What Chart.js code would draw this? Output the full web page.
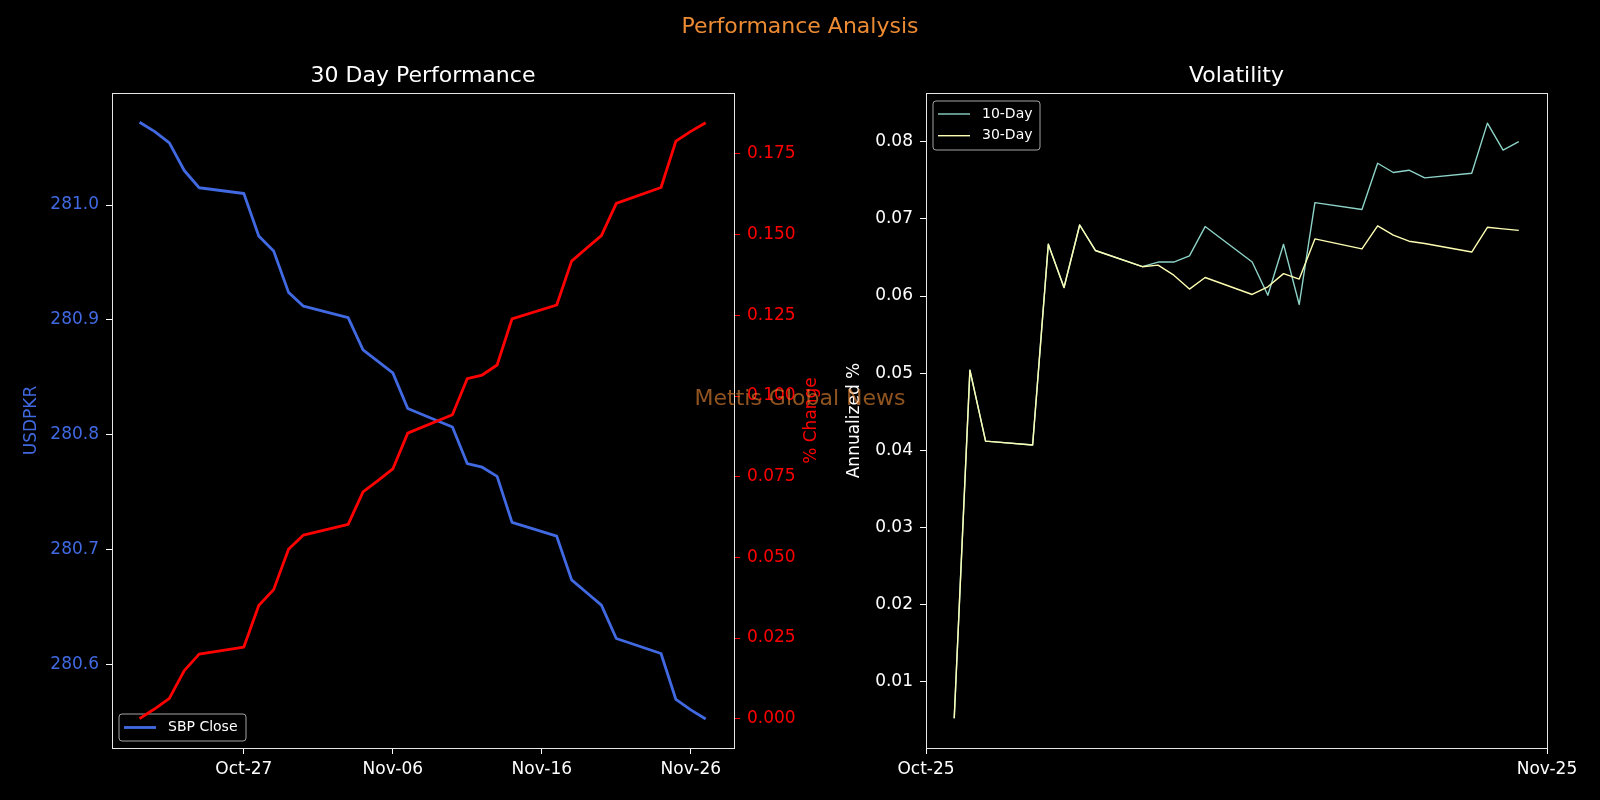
<!DOCTYPE html>
<html>
<head>
<meta charset="utf-8">
<title>Performance Analysis</title>
<script src="https://cdn.jsdelivr.net/npm/chart.js@4.4.1/dist/chart.umd.min.js"></script>
<style>
  html, body { margin: 0; padding: 0; background: #000; }
  #wrap { position: relative; width: 1600px; height: 800px; overflow: hidden; font-family: 'DejaVu Sans', sans-serif; }
  #wrap canvas { position: absolute; left: 0; top: 0; }
  .figtext { position: absolute; transform: translate(-50%, -50%); font-size: 22px; line-height: 1; white-space: nowrap; z-index: 5; }
  #suptitle { left: 800px; top: 25.5px; color: #ec8b33; }
  #watermark { left: 800px; top: 398px; color: rgba(236, 139, 51, 0.6); }
</style>
</head>
<body>
<div id="wrap">
  <canvas id="perfChart" width="1600" height="800"></canvas>
  <canvas id="volChart" width="1600" height="800"></canvas>
  <div id="suptitle" class="figtext">Performance Analysis</div>
  <div id="watermark" class="figtext">Mettis Global News</div>
</div>
<script>
// ---- data ----
const dates = ['2025-10-20','2025-10-21','2025-10-22','2025-10-23','2025-10-24',
  '2025-10-27','2025-10-28','2025-10-29','2025-10-30','2025-10-31',
  '2025-11-03','2025-11-04','2025-11-05','2025-11-06','2025-11-07',
  '2025-11-10','2025-11-11','2025-11-12','2025-11-13','2025-11-14',
  '2025-11-17','2025-11-18','2025-11-19','2025-11-20','2025-11-21',
  '2025-11-24','2025-11-25','2025-11-26','2025-11-27'];

const sbpClose = [281.072, 281.064, 281.054, 281.030, 281.015,
  281.010, 280.973, 280.960, 280.924, 280.912,
  280.902, 280.874, 280.864, 280.854, 280.823,
  280.807, 280.775, 280.772, 280.764, 280.724,
  280.712, 280.674, 280.663, 280.652, 280.623,
  280.610, 280.570, 280.561, 280.553];

const pctChange = [0.0000, 0.0030, 0.0063, 0.0149, 0.0200,
  0.0222, 0.0351, 0.0400, 0.0525, 0.0569,
  0.0602, 0.0703, 0.0738, 0.0774, 0.0885,
  0.0942, 0.1054, 0.1065, 0.1096, 0.1239,
  0.1282, 0.1418, 0.1458, 0.1497, 0.1597,
  0.1646, 0.1790, 0.1820, 0.1847];

const volDates = dates.slice(2);

const vol10 = [0.0053, 0.0504, 0.0412, 0.0407, 0.0667, 0.0611, 0.0692, 0.0659, 0.0638,
  0.0644, 0.0644, 0.0652, 0.0690, 0.0644, 0.0601, 0.0667, 0.0589, 0.0721,
  0.0712, 0.0772, 0.0760, 0.0763, 0.0753, 0.0759, 0.0824, 0.0789, 0.0800];

const vol30 = [0.0053, 0.0504, 0.0412, 0.0407, 0.0667, 0.0611, 0.0692, 0.0659, 0.0638,
  0.0640, 0.0627, 0.0609, 0.0624, 0.0602, 0.0612, 0.0629, 0.0622, 0.0674,
  0.0661, 0.0691, 0.0679, 0.0671, 0.0668, 0.0657, 0.0689, 0.0687, 0.0685];

const perfTickDates = ['2025-10-27', '2025-11-06', '2025-11-16', '2025-11-26'];
const volTickLabels = ['Oct-25', 'Nov-25'];
const usdTicks = [280.6, 280.7, 280.8, 280.9, 281.0];
const pctTicks = [0, 0.025, 0.05, 0.075, 0.1, 0.125, 0.15, 0.175];
const volTicks = [0.01, 0.02, 0.03, 0.04, 0.05, 0.06, 0.07, 0.08];

// ---- helpers ----
const FONT = "'DejaVu Sans', sans-serif";
const DAY = 86400000;
const t0 = Date.UTC(2025, 9, 20);
const MONTHS = ['Jan','Feb','Mar','Apr','May','Jun','Jul','Aug','Sep','Oct','Nov','Dec'];

function dayNum(s) {
  const p = s.split('-');
  return (Date.UTC(+p[0], +p[1] - 1, +p[2]) - t0) / DAY;
}
function dayLabel(d) {
  const dt = new Date(t0 + Math.round(d) * DAY);
  return MONTHS[dt.getUTCMonth()] + '-' + String(dt.getUTCDate()).padStart(2, '0');
}
function points(xs, ys) {
  return xs.map((d, i) => ({ x: dayNum(d), y: ys[i] }));
}
function setTicks(values) {
  return scale => { scale.ticks = values.map(v => ({ value: v })); };
}

Chart.defaults.font.family = FONT;
Chart.defaults.animation = false;

// frame on all four sides, like matplotlib spines
const framePlugin = {
  id: 'frame',
  afterDatasetsDraw(chart) {
    const a = chart.chartArea, ctx = chart.ctx;
    ctx.save();
    ctx.strokeStyle = '#e6e6e6';
    ctx.lineWidth = 1;
    ctx.strokeRect(Math.round(a.left) + 0.5, Math.round(a.top) + 0.5,
      Math.round(a.right - a.left), Math.round(a.bottom - a.top));
    ctx.restore();
  }
};

// boxed legend inside the plot area
const boxLegend = {
  id: 'boxLegend',
  beforeDatasetsDraw(chart, args, opts) {
    if (!opts.items) return;
    const a = chart.chartArea, ctx = chart.ctx;
    const x = a.left + opts.dx;
    const y = opts.corner === 'bottom' ? a.bottom - opts.dy - opts.h : a.top + opts.dy;
    ctx.save();
    ctx.beginPath();
    ctx.roundRect(x, y, opts.w, opts.h, 3);
    ctx.fillStyle = 'rgba(0,0,0,0.8)';
    ctx.fill();
    ctx.strokeStyle = '#a3a3a3';
    ctx.lineWidth = 1;
    ctx.stroke();
    ctx.font = '14px ' + FONT;
    ctx.textBaseline = 'middle';
    opts.items.forEach((idx, i) => {
      const ds = chart.data.datasets[idx];
      const ry = y + opts.rowTop + i * opts.rowGap;
      ctx.strokeStyle = ds.borderColor;
      ctx.lineWidth = ds.borderWidth;
      ctx.beginPath();
      ctx.moveTo(x + 5, ry);
      ctx.lineTo(x + 37, ry);
      ctx.stroke();
      ctx.fillStyle = '#ffffff';
      ctx.fillText(ds.label, x + 49, ry);
    });
    ctx.restore();
  }
};

// rotated axis label drawn by hand (reads bottom to top)
const sideLabel = {
  id: 'sideLabel',
  afterDraw(chart, args, opts) {
    if (!opts.text) return;
    const ctx = chart.ctx, a = chart.chartArea;
    ctx.save();
    ctx.translate(opts.x, (a.top + a.bottom) / 2);
    ctx.rotate(-Math.PI / 2);
    ctx.font = '17px ' + FONT;
    ctx.fillStyle = opts.color;
    ctx.textAlign = 'center';
    ctx.textBaseline = 'middle';
    ctx.fillText(opts.text, 0, 0);
    ctx.restore();
  }
};

function tickFont() { return { family: FONT, size: 17 }; }

// ---- left: 30 day performance ----
new Chart(document.getElementById('perfChart'), {
  type: 'line',
  data: {
    datasets: [
      { label: '% Change', data: points(dates, pctChange), yAxisID: 'y1',
        borderColor: '#ff0000', borderWidth: 2.8, order: 0 },
      { label: 'SBP Close', data: points(dates, sbpClose), yAxisID: 'y',
        borderColor: '#4169e1', borderWidth: 2.8, order: 1 }
    ]
  },
  options: {
    responsive: false,
    devicePixelRatio: 1,
    layout: { autoPadding: false, padding: { left: 0, right: 800, top: 63.3, bottom: 0 } },
    elements: { point: { radius: 0 }, line: { tension: 0, borderJoinStyle: 'round' } },
    plugins: {
      legend: { display: false },
      tooltip: { enabled: false },
      title: { display: true, text: '30 Day Performance', color: '#ffffff', fullSize: false,
        font: { family: FONT, size: 22, weight: 'normal' }, padding: { top: 0, bottom: 3.3 } },
      boxLegend: { items: [1], corner: 'bottom', dx: 7, dy: 7, w: 127, h: 27, rowTop: 13.5, rowGap: 0 },
      sideLabel: { text: '% Change', color: '#ff0000', x: 812 }
    },
    scales: {
      x: {
        type: 'linear', min: -1.85, max: 39.9,
        afterBuildTicks: setTicks(perfTickDates.map(dayNum)),
        afterFit: s => { s.height = 52; },
        border: { display: false },
        grid: { drawOnChartArea: false, tickLength: 6, tickColor: '#ffffff', tickWidth: 1 },
        ticks: { color: '#ffffff', font: tickFont(), padding: 5, maxRotation: 0, autoSkip: false,
          callback: v => dayLabel(v) }
      },
      y: {
        type: 'linear', position: 'left', min: 280.5278, max: 281.0974,
        afterBuildTicks: setTicks(usdTicks),
        afterFit: s => { s.width = 112; },
        border: { display: false },
        grid: { drawOnChartArea: false, tickLength: 6, tickColor: '#ffffff', tickWidth: 1 },
        ticks: { color: '#4169e1', font: tickFont(), padding: 7, callback: v => v.toFixed(1) },
        title: { display: true, text: 'USDPKR', color: '#4169e1', font: { family: FONT, size: 17 },
          padding: { top: 21.8, bottom: 0 } }
      },
      y1: {
        type: 'linear', position: 'right', min: -0.00908, max: 0.1939,
        afterBuildTicks: setTicks(pctTicks),
        afterFit: s => { s.width = 66; },
        border: { display: false },
        grid: { drawOnChartArea: false, tickLength: 6, tickColor: '#ff0000', tickWidth: 1 },
        ticks: { color: '#ff0000', font: tickFont(), padding: 7, callback: v => v.toFixed(3) }
      }
    }
  },
  plugins: [framePlugin, boxLegend, sideLabel]
});

// ---- right: volatility ----
new Chart(document.getElementById('volChart'), {
  type: 'line',
  data: {
    datasets: [
      { label: '10-Day', data: points(volDates, vol10), borderColor: '#8dd3c7', borderWidth: 1.4, order: 1 },
      { label: '30-Day', data: points(volDates, vol30), borderColor: '#feffb3', borderWidth: 1.4, order: 0 }
    ]
  },
  options: {
    responsive: false,
    devicePixelRatio: 1,
    layout: { autoPadding: false, padding: { left: 800, right: 53, top: 63.3, bottom: 0 } },
    elements: { point: { radius: 0 }, line: { tension: 0, borderJoinStyle: 'round' } },
    plugins: {
      legend: { display: false },
      tooltip: { enabled: false },
      title: { display: true, text: 'Volatility', color: '#ffffff', fullSize: false,
        font: { family: FONT, size: 22, weight: 'normal' }, padding: { top: 0, bottom: 3.3 } },
      boxLegend: { items: [0, 1], corner: 'top', dx: 7, dy: 8, w: 107, h: 49, rowTop: 13, rowGap: 21.7 }
    },
    scales: {
      x: {
        type: 'linear', min: 0.2, max: 39.8,
        afterBuildTicks: s => { s.ticks = [{ value: s.min }, { value: s.max }]; },
        afterFit: s => { s.height = 52; },
        border: { display: false },
        grid: { drawOnChartArea: false, tickLength: 6, tickColor: '#ffffff', tickWidth: 1 },
        ticks: { color: '#ffffff', font: tickFont(), padding: 5, maxRotation: 0, autoSkip: false,
          callback: (v, i) => volTickLabels[i] }
      },
      y: {
        type: 'linear', position: 'left', min: 0.00145, max: 0.0863,
        afterBuildTicks: setTicks(volTicks),
        afterFit: s => { s.width = 126; },
        border: { display: false },
        grid: { drawOnChartArea: false, tickLength: 6, tickColor: '#ffffff', tickWidth: 1 },
        ticks: { color: '#ffffff', font: tickFont(), padding: 7, callback: v => v.toFixed(2) },
        title: { display: true, text: 'Annualized %', color: '#ffffff', font: { family: FONT, size: 17 },
          padding: { top: 44.8, bottom: 0 } }
      }
    }
  },
  plugins: [framePlugin, boxLegend]
});
</script>
</body>
</html>
